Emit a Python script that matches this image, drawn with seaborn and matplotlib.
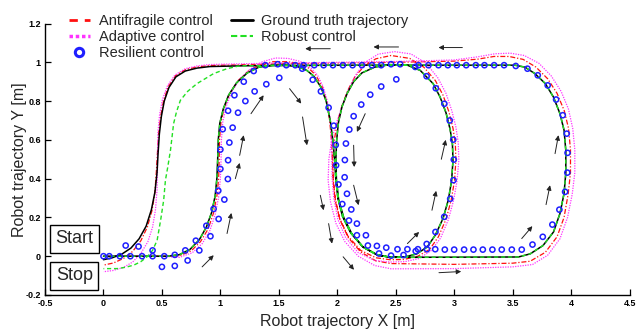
import numpy as np
import pandas as pd
import seaborn as sns
import matplotlib
matplotlib.use("Agg")
import matplotlib.pyplot as plt
from matplotlib.lines import Line2D

# ---------------------------------------------------------------------------
# Trajectory data (x [m], y [m])
# ---------------------------------------------------------------------------
# Ground truth: outbound part (start -> lobe -> loop -> loop again -> rectangle -> top line)
gt_outbound = [
    (0.00, 0.000), (0.30, 0.000), (0.55, 0.000), (0.65, 0.008), (0.74, 0.035), (0.82, 0.085),
    (0.88, 0.150), (0.925, 0.225), (0.955, 0.310), (0.970, 0.400), (0.977, 0.500), (0.982, 0.600),
    (0.995, 0.685), (1.025, 0.760), (1.070, 0.830), (1.140, 0.895), (1.230, 0.945), (1.330, 0.975),
    (1.450, 0.985), (1.570, 0.985),
    (1.660, 0.978), (1.740, 0.958), (1.800, 0.928), (1.860, 0.872), (1.905, 0.800), (1.940, 0.700),
    (1.962, 0.600), (1.977, 0.500), (1.987, 0.400), (2.005, 0.300), (2.045, 0.205), (2.115, 0.120),
    (2.215, 0.050), (2.340, 0.008), (2.450, -0.005), (2.570, -0.005), (2.680, 0.012), (2.770, 0.048),
    (2.840, 0.110), (2.905, 0.195), (2.950, 0.290), (2.978, 0.390), (2.990, 0.495), (2.985, 0.580),
    (2.965, 0.655), (2.930, 0.740), (2.880, 0.820), (2.820, 0.890), (2.710, 0.958), (2.600, 0.985),
    (2.450, 0.988), (2.320, 0.975), (2.210, 0.945), (2.140, 0.900), (2.085, 0.840), (2.040, 0.770),
    (2.010, 0.690), (1.995, 0.600), (1.988, 0.500), (1.993, 0.390), (2.012, 0.290), (2.055, 0.200),
    (2.125, 0.115), (2.225, 0.045), (2.345, 0.005), (2.460, -0.006),
    (3.000, -0.005), (3.550, -0.004), (3.650, 0.012), (3.760, 0.055), (3.850, 0.125), (3.905, 0.220),
    (3.940, 0.323), (3.955, 0.430), (3.955, 0.545), (3.940, 0.650), (3.905, 0.735), (3.850, 0.820),
    (3.780, 0.890), (3.690, 0.942), (3.605, 0.975), (3.520, 0.985),
    (3.000, 0.985), (2.000, 0.985), (1.200, 0.982),
]
# Ground truth: return leg down to the stop point
gt_return = [
    (0.910, 0.978), (0.800, 0.970), (0.700, 0.955), (0.620, 0.925), (0.560, 0.870), (0.520, 0.800),
    (0.495, 0.720), (0.478, 0.630), (0.467, 0.530), (0.458, 0.430), (0.440, 0.330), (0.410, 0.240),
    (0.365, 0.155), (0.305, 0.090), (0.235, 0.042), (0.155, 0.010), (0.075, -0.008), (0.000, -0.018),
]
# Robust control tracks the reference until the final return leg
robust_return = [
    (1.150, 0.980), (1.057, 0.967), (0.943, 0.942), (0.800, 0.890), (0.720, 0.850), (0.658, 0.804),
    (0.625, 0.745), (0.600, 0.684), (0.573, 0.546), (0.550, 0.460), (0.530, 0.392), (0.515, 0.289),
    (0.490, 0.190), (0.459, 0.082), (0.420, 0.030), (0.373, -0.003), (0.320, -0.028), (0.259, -0.046),
    (0.190, -0.057), (0.117, -0.064), (0.000, -0.064),
]

antifragile = [
    (0.00, 0.000), (0.30, 0.000), (0.55, 0.000), (0.65, 0.002), (0.75, 0.027), (0.83, 0.075),
    (0.895, 0.140), (0.940, 0.220), (0.970, 0.310), (0.985, 0.400), (0.990, 0.500), (0.993, 0.600),
    (1.005, 0.690), (1.035, 0.770), (1.080, 0.840), (1.150, 0.905), (1.240, 0.955), (1.340, 0.988),
    (1.450, 1.003), (1.570, 1.003),
    (1.670, 0.995), (1.750, 0.972), (1.815, 0.935), (1.870, 0.875), (1.910, 0.795), (1.935, 0.700),
    (1.950, 0.600), (1.958, 0.500), (1.965, 0.400), (1.982, 0.300), (2.020, 0.195), (2.090, 0.105),
    (2.200, 0.030), (2.330, -0.008), (2.450, -0.018), (2.570, -0.017), (2.690, 0.000), (2.790, 0.035),
    (2.865, 0.100), (2.930, 0.190), (2.975, 0.290), (3.003, 0.390), (3.015, 0.495), (3.010, 0.580),
    (2.990, 0.660), (2.955, 0.745), (2.905, 0.830), (2.840, 0.905), (2.740, 0.975), (2.620, 1.020),
    (2.460, 1.035), (2.330, 1.018), (2.230, 0.980), (2.150, 0.925), (2.090, 0.855), (2.040, 0.775),
    (2.000, 0.690), (1.975, 0.600), (1.962, 0.500), (1.965, 0.390), (1.982, 0.285), (2.025, 0.185),
    (2.095, 0.095), (2.200, 0.022), (2.330, -0.024), (2.460, -0.038),
    (3.000, -0.042), (3.500, -0.036), (3.650, -0.026), (3.780, 0.020), (3.880, 0.100), (3.940, 0.200),
    (3.975, 0.320), (3.995, 0.430), (3.995, 0.550), (3.978, 0.660), (3.942, 0.750), (3.880, 0.840),
    (3.800, 0.915), (3.700, 0.975), (3.590, 1.015), (3.470, 1.030), (3.340, 1.030), (3.200, 1.016),
    (3.000, 1.006), (2.500, 1.000), (2.000, 0.996), (1.500, 0.992), (1.000, 0.985),
    (0.900, 0.983), (0.800, 0.976), (0.700, 0.962), (0.615, 0.930), (0.555, 0.875), (0.515, 0.805),
    (0.490, 0.725), (0.472, 0.635), (0.462, 0.535), (0.452, 0.435), (0.440, 0.330), (0.415, 0.235),
    (0.375, 0.150), (0.320, 0.080), (0.250, 0.025), (0.170, -0.012), (0.085, -0.035), (0.000, -0.046),
]

adaptive = [
    (0.00, 0.000), (0.30, 0.000), (0.55, -0.002), (0.65, -0.006), (0.76, 0.018), (0.845, 0.065),
    (0.910, 0.132), (0.955, 0.213), (0.985, 0.305), (1.000, 0.400), (1.006, 0.500), (1.009, 0.600),
    (1.020, 0.690), (1.050, 0.772), (1.095, 0.845), (1.165, 0.913), (1.255, 0.965), (1.360, 1.003),
    (1.470, 1.022), (1.580, 1.020),
    (1.680, 1.005), (1.760, 0.978), (1.830, 0.935), (1.882, 0.870), (1.918, 0.792), (1.940, 0.700),
    (1.950, 0.600), (1.953, 0.500), (1.956, 0.400), (1.970, 0.300), (2.005, 0.190), (2.072, 0.095),
    (2.180, 0.018), (2.320, -0.022), (2.450, -0.030), (2.580, -0.028), (2.700, -0.012), (2.805, 0.030),
    (2.885, 0.095), (2.950, 0.188), (2.995, 0.288), (3.025, 0.390), (3.040, 0.495), (3.035, 0.585),
    (3.015, 0.665), (2.980, 0.750), (2.930, 0.840), (2.860, 0.920), (2.760, 0.995), (2.630, 1.043),
    (2.490, 1.055), (2.350, 1.042), (2.240, 1.000), (2.165, 0.942), (2.105, 0.872), (2.050, 0.790),
    (2.000, 0.700), (1.955, 0.610), (1.928, 0.500), (1.922, 0.390), (1.942, 0.280), (1.988, 0.170),
    (2.065, 0.075), (2.180, 0.000), (2.320, -0.048), (2.460, -0.065),
    (3.000, -0.064), (3.500, -0.055), (3.670, -0.043), (3.800, 0.005), (3.905, 0.090), (3.970, 0.200),
    (4.010, 0.320), (4.032, 0.430), (4.032, 0.550), (4.014, 0.660), (3.977, 0.760), (3.915, 0.850),
    (3.830, 0.930), (3.725, 0.995), (3.600, 1.035), (3.480, 1.047), (3.350, 1.044), (3.200, 1.028),
    (3.000, 1.012), (2.500, 1.004), (2.000, 1.000), (1.500, 0.996), (1.000, 0.990),
    (0.900, 0.988), (0.800, 0.981), (0.700, 0.967), (0.612, 0.935), (0.548, 0.880), (0.505, 0.810),
    (0.480, 0.730), (0.466, 0.640), (0.462, 0.540), (0.462, 0.440), (0.458, 0.340), (0.445, 0.240),
    (0.420, 0.150), (0.380, 0.075), (0.320, 0.015), (0.250, -0.030), (0.170, -0.058), (0.080, -0.074),
    (0.000, -0.080),
]

# Resilient control samples
resilient = [
    (0.00, 0.000), (0.05, 0.000), (0.14, 0.000), (0.23, 0.000), (0.33, 0.000), (0.42, 0.000), (0.52, 0.000),
    (0.19, 0.055), (0.30, 0.050), (0.42, 0.030), (0.50, -0.055), (0.61, -0.050), (0.72, -0.022),
    (0.82, 0.030), (0.915, 0.103), (0.985, 0.192), (1.034, 0.292), (1.064, 0.398), (1.066, 0.495),
    (1.077, 0.586), (1.105, 0.663), (1.151, 0.740), (1.214, 0.800), (1.293, 0.850), (1.393, 0.887),
    (1.504, 0.920),
    (0.61, 0.007), (0.70, 0.030), (0.79, 0.080), (0.88, 0.157), (0.942, 0.244), (0.982, 0.338),
    (1.000, 0.450), (1.000, 0.550), (1.020, 0.655), (1.066, 0.750), (1.120, 0.830), (1.200, 0.900),
    (1.285, 0.955), (1.385, 0.985), (1.490, 0.990),
    (1.564, 0.985), (1.641, 0.985), (1.712, 0.985), (1.803, 0.985), (1.883, 0.985), (1.963, 0.985),
    (2.048, 0.985), (2.131, 0.985), (2.211, 0.985), (2.296, 0.985), (2.376, 0.985), (2.460, 0.990),
    (2.538, 0.990), (2.695, 0.985), (2.780, 0.985), (2.866, 0.985), (2.946, 0.985),
    (3.023, 0.985), (3.103, 0.985), (3.185, 0.985), (3.259, 0.985), (3.342, 0.985), (3.427, 0.985),
    (3.527, 0.981),
    (3.627, 0.967), (3.715, 0.933), (3.800, 0.881), (3.872, 0.808), (3.929, 0.727), (3.963, 0.632),
    (3.970, 0.533), (3.968, 0.431), (3.949, 0.332), (3.900, 0.240), (3.840, 0.163), (3.758, 0.100),
    (3.670, 0.060),
    (3.578, 0.034), (3.493, 0.034), (3.407, 0.034), (3.327, 0.034), (3.245, 0.034), (3.165, 0.034),
    (3.085, 0.034), (3.000, 0.034), (2.920, 0.034), (2.838, 0.036), (2.767, 0.036), (2.690, 0.036),
    (2.600, 0.036), (2.515, 0.036), (2.419, 0.044), (2.339, 0.053), (2.245, 0.108),
    (2.168, 0.168), (2.120, 0.241), (2.083, 0.322), (2.063, 0.407), (2.065, 0.496), (2.074, 0.581),
    (2.103, 0.653), (2.140, 0.722), (2.205, 0.782), (2.282, 0.833), (2.376, 0.875), (2.505, 0.912),
    (2.667, 0.976), (2.764, 0.928), (2.843, 0.866), (2.916, 0.786), (2.962, 0.700), (2.992, 0.601),
    (2.997, 0.498), (2.994, 0.392), (2.966, 0.296), (2.915, 0.203), (2.840, 0.125), (2.765, 0.063),
    (2.671, 0.026), (2.567, 0.006), (2.460, 0.003), (2.357, 0.014), (2.262, 0.055), (2.168, 0.108),
    (2.100, 0.184), (2.043, 0.269), (2.010, 0.370), (1.990, 0.469), (1.987, 0.574), (1.970, 0.673),
    (1.926, 0.766), (1.860, 0.850), (1.790, 0.910), (1.700, 0.967),
]

# Direction-of-travel arrows: (tail x, tail y, head x, head y)
direction_arrows = [
    (0.844, -0.055, 0.943, 0.005), (1.057, 0.117, 1.094, 0.223), (1.128, 0.400, 1.165, 0.481),
    (1.165, 0.520, 1.199, 0.624), (1.262, 0.735, 1.370, 0.830), (1.592, 0.864, 1.692, 0.787),
    (1.703, 0.718, 1.741, 0.572), (1.855, 0.314, 1.883, 0.237), (1.926, 0.168, 1.955, 0.065),
    (2.050, -0.003, 2.143, -0.070), (2.239, 0.735, 2.168, 0.641), (2.140, 0.572, 2.145, 0.460),
    (2.140, 0.366, 2.182, 0.263), (2.600, 0.065, 2.700, 0.125), (2.810, 0.237, 2.846, 0.337),
    (2.890, 0.500, 2.928, 0.600), (2.870, -0.085, 3.060, -0.079), (3.578, 0.091, 3.669, 0.155),
    (3.786, 0.266, 3.820, 0.366), (3.863, 0.529, 3.892, 0.624), (3.070, 1.076, 2.866, 1.076),
    (2.524, 1.079, 2.310, 1.079), (1.940, 1.070, 1.726, 1.070),
]

x_ticks = [-0.5, 0, 0.5, 1, 1.5, 2, 2.5, 3, 3.5, 4, 4.5]
y_ticks = [-0.2, 0, 0.2, 0.4, 0.6, 0.8, 1, 1.2]


def path_frame(points):
    arr = np.asarray(points, dtype=float)
    return pd.DataFrame({"x": arr[:, 0], "y": arr[:, 1], "order": np.arange(len(arr))})


ground_truth = path_frame(gt_outbound + gt_return)
robust = path_frame(gt_outbound + robust_return)
antifragile_df = path_frame(antifragile)
adaptive_df = path_frame(adaptive)
resilient_df = path_frame(resilient)

# ---------------------------------------------------------------------------
# Figure
# ---------------------------------------------------------------------------
sns.set_theme(style="ticks")
plt.rcParams["font.family"] = ["Liberation Sans", "DejaVu Sans"]

fig = plt.figure(figsize=(6.36, 3.31), dpi=100)
ax = fig.add_axes([0.0708, 0.1088, 0.919, 0.8202])

RED = "#ff1010"
MAGENTA = "#ff33ff"
BLUE = "#1f1fff"
GREEN = "#22e022"

sns.lineplot(data=ground_truth, x="x", y="y", sort=False, estimator=None,
             color="black", linewidth=1.1, ax=ax, zorder=3)
sns.lineplot(data=robust, x="x", y="y", sort=False, estimator=None,
             color=GREEN, linewidth=1.0, linestyle=(0, (3, 2)), ax=ax, zorder=4)
sns.lineplot(data=antifragile_df, x="x", y="y", sort=False, estimator=None,
             color=RED, linewidth=0.9, linestyle=(0, (4, 1.5, 1, 1.5)), ax=ax, zorder=2)
sns.lineplot(data=adaptive_df, x="x", y="y", sort=False, estimator=None,
             color=MAGENTA, linewidth=0.9, linestyle=(0, (1, 1)), ax=ax, zorder=2)
sns.scatterplot(data=resilient_df, x="x", y="y", marker="o", s=14,
                facecolors="none", edgecolors=BLUE, linewidths=1.1, ax=ax, zorder=5)

for tx, ty, hx, hy in direction_arrows:
    ax.annotate("", xy=(hx, hy), xytext=(tx, ty),
                arrowprops=dict(arrowstyle="-|>", color="#222222", lw=0.7,
                                mutation_scale=7, shrinkA=0, shrinkB=0),
                zorder=6)

box = dict(boxstyle="square,pad=0.3", facecolor="white", edgecolor="black", linewidth=1.0)
ax.text(-0.25, 0.09, "Start", fontsize=13, ha="center", va="center", bbox=box, zorder=7)
ax.text(-0.25, -0.10, "Stop", fontsize=13, ha="center", va="center", bbox=box, zorder=7)

ax.set_xlim(-0.5, 4.5)
ax.set_ylim(-0.2, 1.2)
ax.set_xticks(x_ticks)
ax.set_xticklabels([f"{t:g}" for t in x_ticks])
ax.set_yticks(y_ticks)
ax.set_yticklabels([f"{t:g}" for t in y_ticks])
ax.tick_params(direction="in", length=4, width=0.9, labelsize=6.5, pad=3, colors="black")
for lab in ax.get_xticklabels() + ax.get_yticklabels():
    lab.set_fontweight("bold")
for side in ("top", "right"):
    ax.spines[side].set_visible(False)
for side in ("left", "bottom"):
    ax.spines[side].set_linewidth(1.0)
    ax.spines[side].set_color("black")

ax.set_xlabel("Robot trajectory X [m]", fontsize=11.5, labelpad=4)
ax.set_ylabel("Robot trajectory Y [m]", fontsize=11.5, labelpad=-1)

handles = [
    Line2D([], [], color=RED, lw=2.0, linestyle=(0, (3, 2.5))),
    Line2D([], [], color=MAGENTA, lw=2.5, linestyle=(0, (1, 0.8))),
    Line2D([], [], color=BLUE, lw=0, marker="o", markersize=6, markerfacecolor="none",
           markeredgewidth=2.2, markeredgecolor=BLUE),
    Line2D([], [], color="black", lw=2.0),
    Line2D([], [], color=GREEN, lw=1.5, linestyle=(0, (3, 1.5))),
]
labels = ["Antifragile control", "Adaptive control", "Resilient control",
          "Ground truth trajectory", "Robust control"]
fig.legend(handles, labels, loc="upper left", bbox_to_anchor=(0.092, 0.988), ncol=2,
           frameon=False, fontsize=10.5, handlelength=1.45, handletextpad=0.6,
           columnspacing=1.3, labelspacing=0.12, borderaxespad=0.3)

fig.savefig("out.png", dpi=100)
